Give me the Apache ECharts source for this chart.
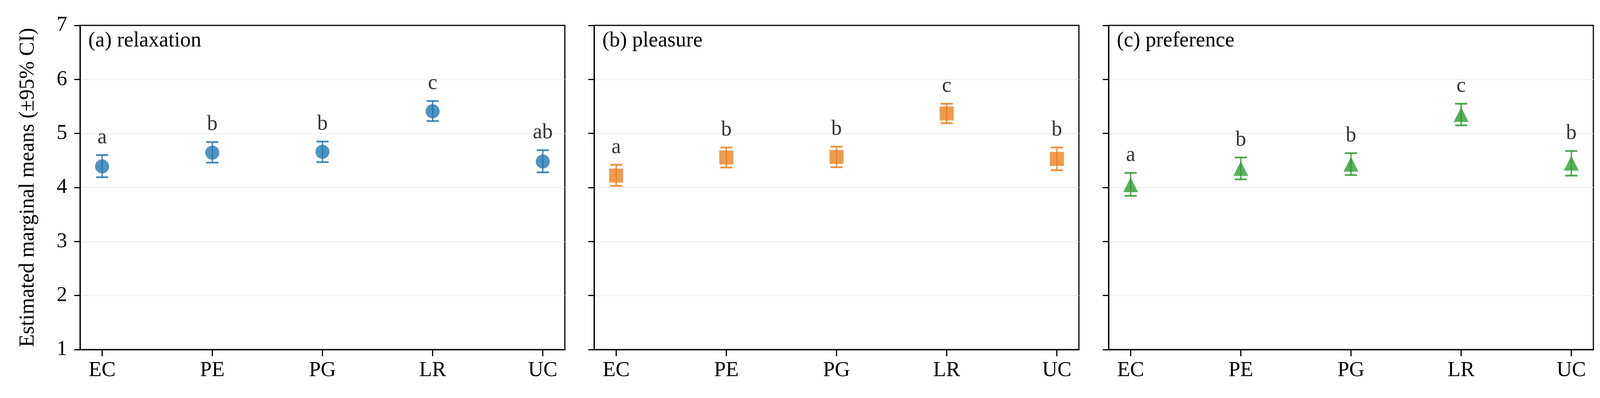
<!DOCTYPE html>
<html>
<head>
<meta charset="utf-8">
<script src="https://cdn.jsdelivr.net/npm/echarts@6/dist/echarts.min.js"></script>
<style>
html,body{margin:0;padding:0;background:#fff;}
#main{width:4118px;height:1019px;}
</style>
</head>
<body>
<div id="main"></div>
<script>
// ---------- data ----------
const categories = ['EC', 'PE', 'PG', 'LR', 'UC'];
const yTicks = [1, 2, 3, 4, 5, 6, 7];
const panelTitles = ['(a) relaxation', '(b) pleasure', '(c) preference'];
const yAxisTitle = 'Estimated marginal means (\u00b195% CI)';

const relaxMean    = [4.39, 4.645, 4.66, 5.41, 4.48];
const relaxLow     = [4.19, 4.46, 4.47, 5.23, 4.28];
const relaxHigh    = [4.60, 4.84, 4.85, 5.60, 4.69];
const relaxLetters = ['a', 'b', 'b', 'c', 'ab'];

const pleasureMean    = [4.22, 4.555, 4.565, 5.37, 4.53];
const pleasureLow     = [4.03, 4.37, 4.375, 5.19, 4.32];
const pleasureHigh    = [4.42, 4.74, 4.755, 5.55, 4.74];
const pleasureLetters = ['a', 'b', 'b', 'c', 'b'];

const prefMean    = [4.05, 4.35, 4.43, 5.35, 4.45];
const prefLow     = [3.845, 4.15, 4.23, 5.15, 4.22];
const prefHigh    = [4.27, 4.555, 4.635, 5.55, 4.675];
const prefLetters = ['a', 'b', 'b', 'c', 'b'];

// ---------- styling ----------
const FONT = "'Liberation Serif', 'Times New Roman', serif";
const FS = 54;
const panels = [
  {mean: relaxMean, low: relaxLow, high: relaxHigh, letters: relaxLetters, color: '#1f74b0', symbol: 'circle', size: 36},
  {mean: pleasureMean, low: pleasureLow, high: pleasureHigh, letters: pleasureLetters, color: '#ea7f1c', symbol: 'rect', size: 36},
  {mean: prefMean, low: prefLow, high: prefHigh, letters: prefLetters, color: '#2b9b2b', symbol: 'triangle', size: 38}
];
const gridLefts = [205, 1521, 2838];
const gridWidth = 1241;
const gridTop = 65, gridHeight = 830;

const grids = [], xAxes = [], yAxes = [], series = [], graphics = [];
const catIdx = categories.map((c, i) => i);

panels.forEach((p, k) => {
  grids.push({left: gridLefts[k], top: gridTop, width: gridWidth, height: gridHeight,
    show: true, borderColor: '#000', borderWidth: 3, backgroundColor: '#fff', containLabel: false});
  xAxes.push({
    type: 'value', gridIndex: k, min: -0.2, max: 4.2,
    axisLine: {show: true, onZero: false, lineStyle: {color: '#000', width: 3}},
    axisTick: {show: true, length: 17, lineStyle: {color: '#000', width: 3}, customValues: catIdx},
    axisLabel: {show: true, margin: 27, color: '#000', fontFamily: FONT, fontSize: FS,
      customValues: catIdx, formatter: v => categories[Math.round(v)]},
    splitLine: {show: false}
  });
  yAxes.push({
    type: 'value', gridIndex: k, min: yTicks[0], max: yTicks[yTicks.length - 1], interval: 1,
    axisLine: {show: true, onZero: false, lineStyle: {color: '#000', width: 3}},
    axisTick: {show: true, length: 15, lineStyle: {color: '#000', width: 3}},
    axisLabel: {show: k === 0, margin: 33, color: '#000', fontFamily: FONT, fontSize: FS},
    splitLine: {show: true, showMinLine: false, showMaxLine: false, lineStyle: {color: '#ececec', width: 2}}
  });
  const ebData = catIdx.map(i => [i, p.low[i], p.high[i]]);
  series.push({
    type: 'scatter', xAxisIndex: k, yAxisIndex: k, z: 3,
    symbol: p.symbol, symbolSize: p.size,
    itemStyle: {color: p.color, opacity: 0.78},
    data: catIdx.map(i => [i, p.mean[i]])
  });
  series.push({
    type: 'custom', xAxisIndex: k, yAxisIndex: k, z: 4,
    data: ebData,
    renderItem: (params, api) => {
      const x = api.value(0);
      const lo = api.coord([x, api.value(1)]);
      const hi = api.coord([x, api.value(2)]);
      const hw = 15.5;
      const st = {stroke: p.color, lineWidth: 3.5, opacity: 0.85};
      return {type: 'group', children: [
        {type: 'line', shape: {x1: lo[0], y1: lo[1], x2: hi[0], y2: hi[1]}, style: st},
        {type: 'line', shape: {x1: hi[0] - hw, y1: hi[1], x2: hi[0] + hw, y2: hi[1]}, style: Object.assign({}, st, {lineWidth: 4.5})},
        {type: 'line', shape: {x1: lo[0] - hw, y1: lo[1], x2: lo[0] + hw, y2: lo[1]}, style: Object.assign({}, st, {lineWidth: 4.5})}
      ]};
    }
  });
  series.push({
    type: 'scatter', xAxisIndex: k, yAxisIndex: k, z: 5,
    symbolSize: 1, itemStyle: {color: 'rgba(0,0,0,0)'},
    label: {show: true, position: 'top', distance: 17, color: '#000', fontFamily: FONT, fontSize: FS,
      formatter: prm => p.letters[prm.dataIndex]},
    data: catIdx.map(i => [i, p.high[i]])
  });
  graphics.push({type: 'text', x: gridLefts[k] + 21, y: 105,
    style: {text: panelTitles[k], font: FS + 'px ' + FONT, fill: '#000', textAlign: 'left', textVerticalAlign: 'middle'}, z: 10});
});

graphics.push({type: 'text', x: 72, y: 480, rotation: Math.PI / 2,
  style: {text: yAxisTitle, font: FS + 'px ' + FONT, fill: '#000', textAlign: 'center', textVerticalAlign: 'middle'}, z: 10});

const chart = echarts.init(document.getElementById('main'), null, {renderer: 'canvas'});
chart.setOption({
  animation: false,
  backgroundColor: '#fff',
  grid: grids, xAxis: xAxes, yAxis: yAxes, series: series, graphic: graphics
});
</script>
</body>
</html>
